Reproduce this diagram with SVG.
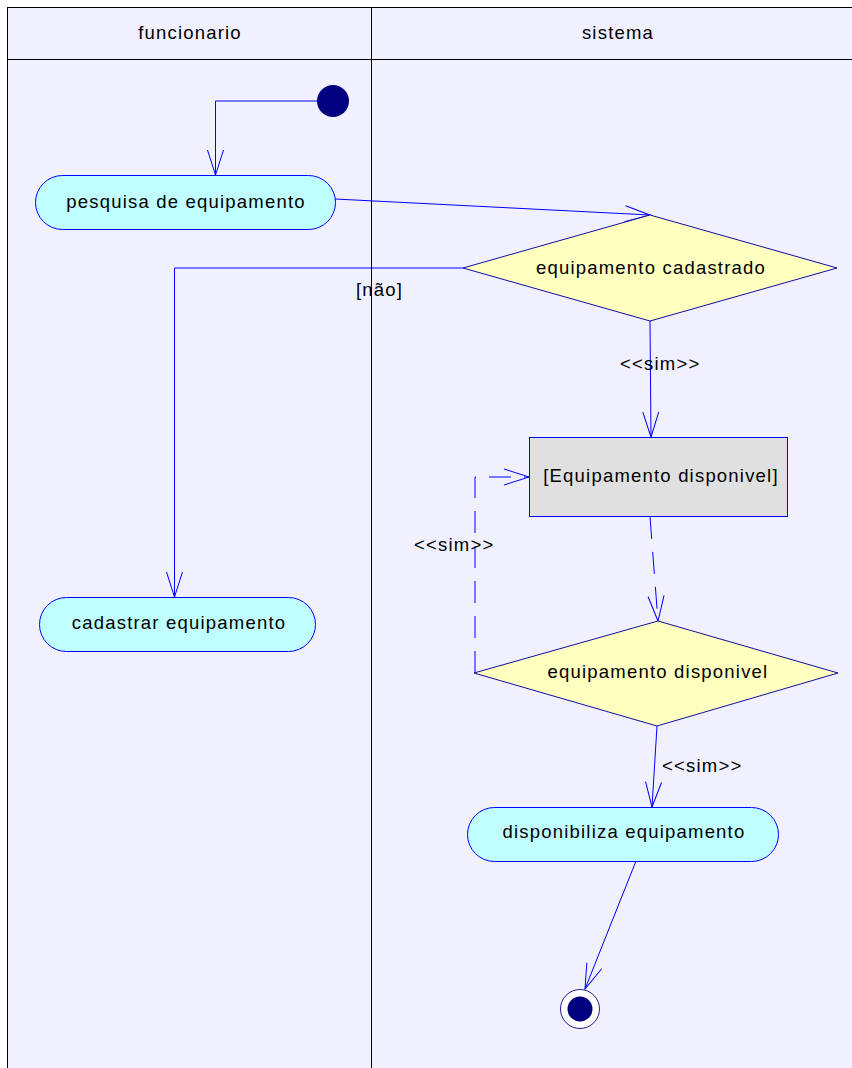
<svg xmlns="http://www.w3.org/2000/svg" width="852" height="1068" viewBox="0 0 852 1068">
  <style>
    .lane { fill: #F0F0FF; stroke: #000000; stroke-width: 1; }
    .act { fill: #C0FFFF; stroke: #0000FF; stroke-width: 1; }
    .dec { fill: #FFFFC0; stroke: #1010A0; stroke-width: 1; }
    .obj { fill: #E0E0E0; stroke: #0000FF; stroke-width: 1; }
    .edge { fill: none; stroke: #0000FF; stroke-width: 1; }
    .dash { stroke-dasharray: 22 13; }
    text { font-family: "Liberation Sans", Arial, sans-serif; font-size: 18.5px; letter-spacing: 1.2px; fill: #000000; }
    .c { text-anchor: middle; }
  </style>
  <defs>
    <marker id="open" markerUnits="userSpaceOnUse" markerWidth="30" markerHeight="20" refX="0" refY="0" viewBox="-27 -10 30 20" orient="auto" overflow="visible">
      <path d="M -25 -8 L 0 0 L -25 8" fill="none" stroke="#0000FF" stroke-width="1"/>
    </marker>
  </defs>

  <rect x="0" y="0" width="852" height="1068" fill="#FFFFFF"/>

  <!-- swimlanes -->
  <g id="lanes">
    <rect class="lane" x="7.5" y="7.5" width="850" height="1070"/>
    <line x1="7.5" y1="59.5" x2="852" y2="59.5" stroke="#000" stroke-width="1"/>
    <line x1="371.5" y1="7.5" x2="371.5" y2="1068" stroke="#000" stroke-width="1"/>
    <text class="c" x="190" y="39">funcionario</text>
    <text class="c" x="618" y="39">sistema</text>
  </g>

  <!-- connectors -->
  <g id="connectors">
    <polyline class="edge" points="317,101 215.5,101 215.5,175" marker-end="url(#open)"/>
    <line class="edge" x1="335" y1="199" x2="650" y2="215" marker-end="url(#open)"/>
    <polyline class="edge" points="463,268 174.5,268 174.5,597" marker-end="url(#open)"/>
    <text x="356" y="296">[não]</text>
    <line class="edge" x1="650" y1="321" x2="651" y2="437" marker-end="url(#open)"/>
    <text x="620" y="370">&lt;&lt;sim&gt;&gt;</text>
    <line class="edge dash" x1="650" y1="517" x2="658" y2="621" marker-end="url(#open)"/>
    <polyline class="edge dash" points="475,673 475,477 529,477" marker-end="url(#open)"/>
    <text x="414" y="551">&lt;&lt;sim&gt;&gt;</text>
    <line class="edge" x1="657" y1="726" x2="652" y2="807" marker-end="url(#open)"/>
    <text x="662" y="772">&lt;&lt;sim&gt;&gt;</text>
    <line class="edge" x1="636" y1="861" x2="585" y2="989" marker-end="url(#open)"/>
  </g>

  <!-- nodes -->
  <g id="start">
    <circle cx="333" cy="101" r="16" fill="#000080"/>
  </g>
  <g id="pesquisa">
    <rect class="act" x="35.5" y="175.5" width="300" height="54" rx="27" ry="27"/>
    <text class="c" x="186" y="208">pesquisa de equipamento</text>
  </g>
  <g id="decisao-cadastrado">
    <polygon class="dec" points="650,215 837,268 650,321 463,268"/>
    <text class="c" x="651" y="274">equipamento cadastrado</text>
  </g>
  <g id="cadastrar">
    <rect class="act" x="39.5" y="597.5" width="276" height="54" rx="27" ry="27"/>
    <text class="c" x="179" y="629">cadastrar equipamento</text>
  </g>
  <g id="estado-disponivel">
    <rect class="obj" x="529.5" y="437.5" width="258" height="79"/>
    <text class="c" x="661" y="482">[Equipamento disponivel]</text>
  </g>
  <g id="decisao-disponivel">
    <polygon class="dec" points="658,621 838,673 657,726 474,673"/>
    <text class="c" x="658" y="678">equipamento disponivel</text>
  </g>
  <g id="disponibiliza">
    <rect class="act" x="467.5" y="807.5" width="311" height="54" rx="27" ry="27"/>
    <text class="c" x="624" y="838">disponibiliza equipamento</text>
  </g>
  <g id="fim">
    <circle cx="580" cy="1009" r="19.5" fill="#FFFFFF" stroke="#202090" stroke-width="1"/>
    <circle cx="580" cy="1009" r="12.5" fill="#000080"/>
  </g>
</svg>
